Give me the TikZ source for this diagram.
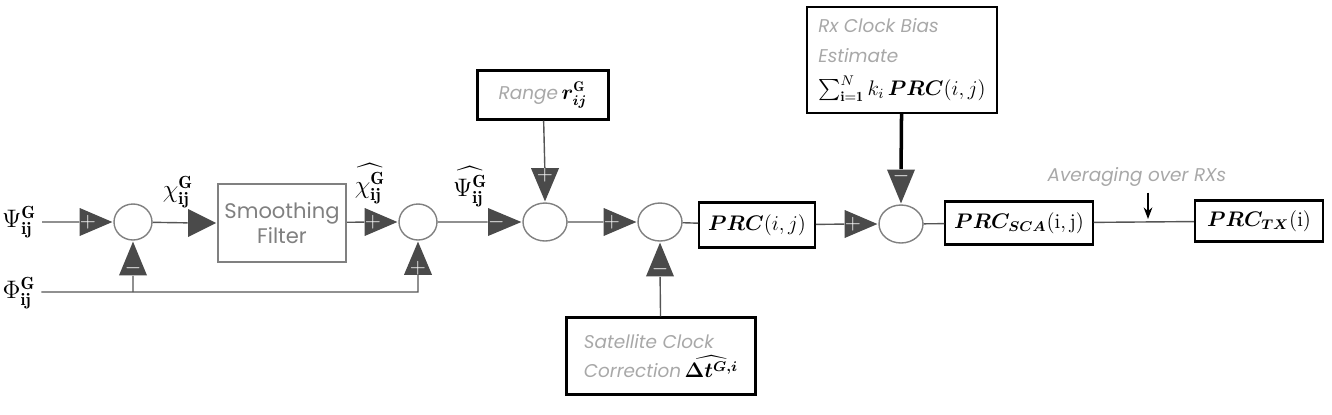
\documentclass[tikz,border=0pt]{standalone}
\usepackage{fontspec}
\usepackage{amsmath,bm}
\usetikzlibrary{shapes.geometric,arrows.meta}
\newfontfamily\notefont{Poppins}
\definecolor{linegray}{HTML}{555555}
\definecolor{signgray}{HTML}{4A4A4A}
\definecolor{notegray}{HTML}{A8A8A8}
\newcommand{\grtxt}[1]{{\notefont\itshape\fontsize{10.5}{14}\selectfont\color{notegray}#1}}
\begin{document}
\begin{tikzpicture}[x=0.02cm, y=-0.02cm, font=\Large,
		wire/.style={draw=linegray, thick},
		sumnode/.style={draw=gray, thick, ellipse, inner sep=0, minimum width=0.76cm, minimum height=0.72cm},
		sign/.style={isosceles triangle, isosceles triangle stretches, fill=signgray, inner sep=0, minimum width=0.56cm, minimum height=0.56cm, text=white, font=\large\bfseries, anchor=apex},
		signR/.style={sign, shape border rotate=0},
		signU/.style={sign, shape border rotate=90},
		signD/.style={sign, shape border rotate=-90},
		blk/.style={draw, line width=1.2pt, inner sep=5pt, align=left, font=\fontsize{12}{17}\selectfont}]
	\useasboundingbox (0,0) rectangle (1332,414);

	% inputs
	\node (psi) at (19,222) {$\Psi^{\mathbf G}_{\mathbf{ij}}$};
	\node (phi) at (19,293) {$\Phi^{\mathbf G}_{\mathbf{ij}}$};

	% summing points
	\node (c1) [sumnode] at (133,222) {};
	\node (c2) [sumnode] at (418,222) {};
	\node (c3) [sumnode, minimum width=0.88cm, minimum height=0.76cm] at (545,222) {};
	\node (c4) [sumnode, minimum width=0.88cm, minimum height=0.76cm] at (660,222) {};
	\node (c5) [sumnode, minimum width=0.88cm, minimum height=0.76cm] at (901,224) {};

	% signs
	\node (s1a) [signR] at (c1.west) {$+$};
	\node (s1b) [signU] at (c1.south) {$-$};
	\node (s2a) [signR] at (c2.west) {$+$};
	\node (s2b) [signU] at (c2.south) {$+$};
	\node (s3a) [signR] at (c3.west) {$-$};
	\node (s3b) [signD] at (c3.north) {$+$};
	\node (s4a) [signR] at (c4.west) {$+$};
	\node (s4b) [signU] at (c4.south) {$-$};
	\node (s5a) [signR] at (c5.west) {$+$};
	\node (s5b) [signD] at (c5.north) {$-$};

	% blocks
	\node (filt) [draw=gray, line width=1.2pt, minimum width=2.56cm, minimum height=1.56cm, align=center, text=gray, font=\notefont\large] at (282,223) {Smoothing\\Filter};
	\node (s1c) [signR] at (filt.west) {};
	\node (range) [blk, minimum width=2.62cm, minimum height=0.98cm, align=center] at (543,95) {\grtxt{Range}\,$\bm{r}^{\mathbf G}_{\bm{ij}}$};
	\node (sat) [blk, minimum width=3.78cm, minimum height=1.54cm] at (661,356) {\grtxt{Satellite Clock}\\\grtxt{Correction}\,$\widehat{\bm{\Delta t}^{\bm{G,i}}}$};
	\node (rx) [blk, minimum width=3.8cm, minimum height=2.12cm] at (902,60) {\grtxt{Rx Clock Bias}\\\grtxt{Estimate}\\[2pt]$\sum_{\mathbf{i=1}}^{N} k_i\,\bm{PRC}(i,j)$};
	\node (prc) [blk, minimum width=2.18cm, minimum height=0.9cm, align=center] at (757,225) {$\bm{PRC}(i,j)$};
	\node (sca) [blk, minimum width=2.64cm, minimum height=0.86cm, align=center] at (1019,223) {$\bm{PRC}_{\bm{SCA}}(\mathrm{i,j})$};
	\node (tx) [blk, minimum width=2.56cm, minimum height=0.82cm, align=center] at (1259,221) {$\bm{PRC}_{\bm{TX}}(\mathrm{i})$};

	% signal labels
	\node (chi) at (178,192) {$\chi^{\mathbf G}_{\mathbf{ij}}$};
	\node (chihat) at (370,184) {$\widehat{\chi^{\mathbf G}_{\mathbf{ij}}}$};
	\node (psihat) at (470,187) {$\widehat{\Psi^{\mathbf G}_{\mathbf{ij}}}$};
	\node (avg) at (1137,177) {\grtxt{Averaging over RXs}};

	% connections
	\coordinate (j1) at (133,292);
	\coordinate (j2) at (418,292);
	\coordinate (avtip) at (1148,219);
	\draw[wire] (psi) -- (s1a);
	\draw[wire] (phi.east |- j1) -- (j1) -- (j2) -- (s2b);
	\draw[wire] (j1) -- (s1b);
	\draw[wire] (c1) -- (s1c);
	\draw[wire] (filt) -- (s2a);
	\draw[wire] (c2) -- (s3a);
	\draw[wire] (c3) -- (s4a);
	\draw[wire] (c4) -- (prc);
	\draw[wire] (prc) -- (s5a);
	\draw[wire] (c5) -- (sca);
	\draw[wire] (sca) -- (tx);
	\draw[wire] (range) -- (s3b);
	\draw[wire] (sat) -- (s4b);
	\draw[line width=2pt] (rx) -- (s5b);
	\draw[-{Stealth}, thick] (avtip |- avg.south) -- (avtip);
\end{tikzpicture}
\end{document}
